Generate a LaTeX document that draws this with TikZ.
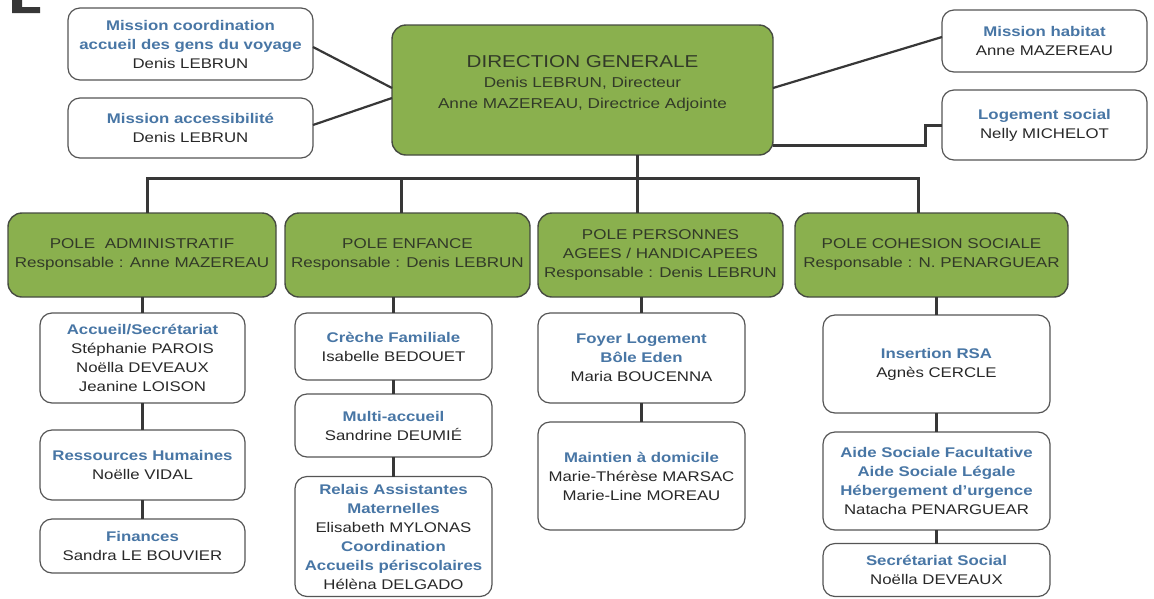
\documentclass[tikz,border=0pt]{standalone}
\usepackage{fontspec}
\setmainfont{Liberation Sans}[FakeStretch=1.2]
\definecolor{blu}{RGB}{72,118,165}
\definecolor{txt}{RGB}{40,40,40}
\definecolor{gtxt}{RGB}{50,58,40}
\definecolor{greenfill}{RGB}{138,176,78}
\definecolor{gborder}{RGB}{70,75,65}
\definecolor{boxgray}{RGB}{85,85,85}
\definecolor{lin}{RGB}{55,55,55}
\newcommand\mtit[1]{{\bfseries\color{blu}#1}}
\begin{document}
\begin{tikzpicture}[x=1pt,y=-1pt,
  wbox/.style={draw=boxgray, line width=1.2pt, rounded corners=12pt, fill=white, inner sep=0pt, outer sep=0pt, align=center, text=txt, font=\fontsize{14}{19}\selectfont},
  gbox/.style={draw=gborder, line width=1.4pt, rounded corners=14pt, fill=greenfill, inner sep=0pt, outer sep=0pt, align=center, text=gtxt, font=\fontsize{14.2}{19}\selectfont},
  conn/.style={draw=lin, line width=3pt},
  diag/.style={draw=lin, line width=2.2pt}]
\useasboundingbox (0,0) rectangle (1154,598);
% partial letter at top-left
\fill[lin] (12,0) -- (22,0) -- (22,7) -- (40,7) -- (40,13) -- (12,13) -- cycle;

% top level
\node[gbox, minimum width=381pt, minimum height=130pt] (dg) at (582.5,90) {};
\node[text=gtxt, align=center, inner sep=0pt, font=\fontsize{14.3}{20.5}\selectfont] (dgt) at (582.5,83)
  {{\fontsize{17.2}{21}\selectfont DIRECTION GENERALE}\\Denis LEBRUN, Directeur\\Anne MAZEREAU, Directrice Adjointe};
\node[wbox, minimum width=245pt, minimum height=72pt] (mc) at (190.5,44)
  {\mtit{Mission coordination}\\\mtit{accueil des gens du voyage}\\Denis LEBRUN};
\node[wbox, minimum width=245pt, minimum height=60pt] (ma) at (190.5,128)
  {\mtit{Mission accessibilité}\\Denis LEBRUN};
\node[wbox, minimum width=205pt, minimum height=62pt] (mh) at (1044.5,41)
  {\mtit{Mission habitat}\\Anne MAZEREAU};
\node[wbox, minimum width=205pt, minimum height=70pt] (ls) at (1044.5,125)
  {\mtit{Logement social}\\Nelly MICHELOT};

% poles
\node[gbox, minimum width=268pt, minimum height=84pt] (pa) at (142,255)
  {POLE\ \ ADMINISTRATIF\\Responsable : Anne MAZEREAU};
\node[gbox, minimum width=245pt, minimum height=84pt] (pe) at (407.5,255)
  {POLE ENFANCE\\Responsable : Denis LEBRUN};
\node[gbox, minimum width=245pt, minimum height=84pt] (pp) at (660.5,255)
  {POLE PERSONNES\\AGEES / HANDICAPEES\\Responsable : Denis LEBRUN};
\node[gbox, minimum width=273pt, minimum height=84pt] (pc) at (931.5,255)
  {POLE COHESION SOCIALE\\Responsable : N. PENARGUEAR};

% admin column
\node[wbox, minimum width=205pt, minimum height=90pt] (acc) at (142.5,358)
  {\mtit{Accueil/Secrétariat}\\Stéphanie PAROIS\\Noëlla DEVEAUX\\Jeanine LOISON};
\node[wbox, minimum width=205pt, minimum height=70pt] (rh) at (142.5,465)
  {\mtit{Ressources Humaines}\\Noëlle VIDAL};
\node[wbox, minimum width=205pt, minimum height=54pt] (fin) at (142.5,546)
  {\mtit{Finances}\\Sandra LE BOUVIER};

% enfance column
\node[wbox, minimum width=197pt, minimum height=67pt] (cr) at (393.5,346.5)
  {\mtit{Crèche Familiale}\\Isabelle BEDOUET};
\node[wbox, minimum width=197pt, minimum height=63pt] (mu) at (393.5,425.5)
  {\mtit{Multi-accueil}\\Sandrine DEUMIÉ};
\node[wbox, minimum width=197pt, minimum height=120pt] (re) at (393.5,536.5)
  {\mtit{Relais Assistantes}\\\mtit{Maternelles}\\Elisabeth MYLONAS\\\mtit{Coordination}\\\mtit{Accueils périscolaires}\\Hélèna DELGADO};

% personnes column
\node[wbox, minimum width=207pt, minimum height=90pt] (fo) at (641.5,358)
  {\mtit{Foyer Logement}\\\mtit{Bôle Eden}\\Maria BOUCENNA};
\node[wbox, minimum width=207pt, minimum height=108pt] (mt) at (641.5,476)
  {\mtit{Maintien à domicile}\\Marie-Thérèse MARSAC\\Marie-Line MOREAU};

% cohesion column
\node[wbox, minimum width=227pt, minimum height=98pt] (ir) at (936.5,364)
  {\mtit{Insertion RSA}\\Agnès CERCLE};
\node[wbox, minimum width=227pt, minimum height=98pt] (as) at (936.5,481)
  {\mtit{Aide Sociale Facultative}\\\mtit{Aide Sociale Légale}\\\mtit{Hébergement d’urgence}\\Natacha PENARGUEAR};
\node[wbox, minimum width=227pt, minimum height=53pt] (ss) at (936.5,570)
  {\mtit{Secrétariat Social}\\Noëlla DEVEAUX};

% connectors at the top
\draw[diag] ([yshift=-3pt]mc.east) -- ([yshift=2pt]dg.west);
\draw[diag] ([yshift=3pt]ma.east) -- ([yshift=-8pt]dg.west);
\draw[diag] ([yshift=2pt]dg.east) -- ([yshift=4pt]mh.west);
\draw[conn] ([yshift=-55pt]dg.east) -- ++(152,0) |- (ls.west);

% bus
\coordinate (busL) at (147,178);
\coordinate (busE) at (401,178);
\coordinate (busP) at (637,178);
\coordinate (busR) at (918,178);
\draw[conn] (pa.north -| busL) |- (busR) -- (pc.north -| busR);
\draw[conn] (busE) -- (pe.north -| busE);
\draw[conn] (dg.south -| busP) -- (pp.north -| busP);

% columns
\draw[conn] (pa.south -| acc.north) -- (acc.north);
\draw[conn] (acc.south) -- (rh.north);
\draw[conn] (rh.south) -- (fin.north);
\draw[conn] (pe.south -| cr.north) -- (cr.north);
\draw[conn] (cr.south) -- (mu.north);
\draw[conn] (mu.south) -- (re.north);
\draw[conn] (pp.south -| fo.north) -- (fo.north);
\draw[conn] (fo.south) -- (mt.north);
\draw[conn] (pc.south -| ir.north) -- (ir.north);
\draw[conn] (ir.south) -- (as.north);
\draw[conn] (as.south) -- (ss.north);
\end{tikzpicture}
\end{document}
